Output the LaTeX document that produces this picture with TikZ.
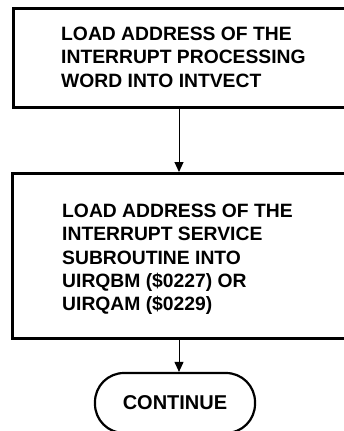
\documentclass[tikz,border=0pt]{standalone}
\usepackage{fontspec}
\setmainfont{Liberation Sans}
\usetikzlibrary{arrows.meta}
\begin{document}
\begin{tikzpicture}[x=1pt,y=-1pt,
  procbox/.style={draw, line width=2.6pt, rectangle, inner sep=0pt},
  boxtext/.style={align=left, inner sep=0pt, anchor=north west,
    font=\fontsize{19.3}{23.2}\selectfont\bfseries},
  flow/.style={draw, line width=1pt, -{Triangle[width=9pt,length=10pt]}},
  term/.style={draw, line width=2.2pt, rectangle, rounded corners=29pt,
    minimum width=160pt, minimum height=60pt, inner sep=0pt,
    font=\fontsize{20}{22}\selectfont\bfseries}]
\useasboundingbox (0,0) rectangle (344,431);
\clip (0,0) rectangle (344,431);
% boxes
\node[procbox, minimum width=360pt, minimum height=99pt, anchor=north west] (b1) at (12,7) {};
\node[boxtext] (t1) at (61,27) {LOAD ADDRESS OF THE\\INTERRUPT PROCESSING\\WORD INTO INTVECT};
\node[procbox, minimum width=360pt, minimum height=165pt, anchor=north west] (b2) at (11,172) {};
\node[boxtext] (t2) at (62,204) {LOAD ADDRESS OF THE\\INTERRUPT SERVICE\\SUBROUTINE INTO\\UIRQBM (\$0227) OR\\UIRQAM (\$0229)};
\node[term] (c) at (175,403) {CONTINUE};
% connectors
\coordinate (ax) at (179,0);
\draw[flow] (b1.south -| ax) -- (b2.north -| ax);
\draw[flow] (b2.south -| ax) -- (c.north -| ax);
\end{tikzpicture}
\end{document}
